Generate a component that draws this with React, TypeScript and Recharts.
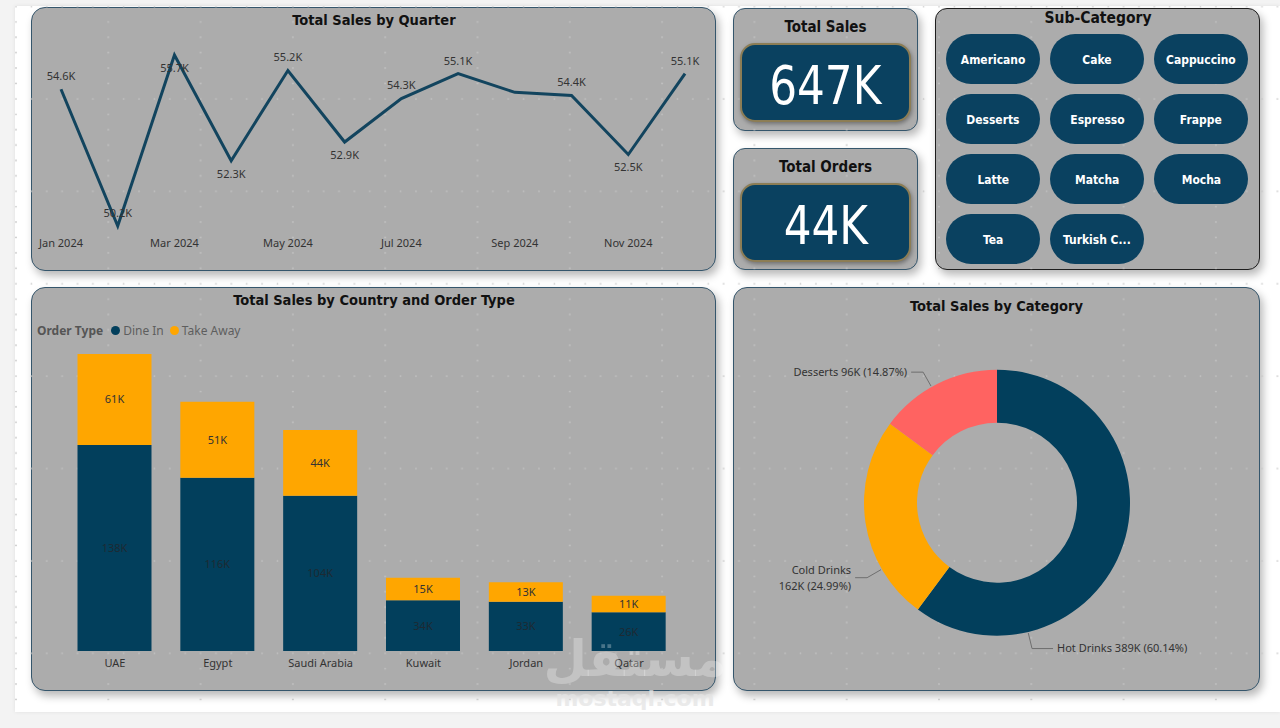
import React from 'react';
import { LineChart, Line, XAxis, YAxis, BarChart, Bar, LabelList, PieChart, Pie, Cell } from 'recharts';

// ---------- data ----------
const months = ['Jan 2024', 'Feb 2024', 'Mar 2024', 'Apr 2024', 'May 2024', 'Jun 2024', 'Jul 2024', 'Aug 2024', 'Sep 2024', 'Oct 2024', 'Nov 2024', 'Dec 2024'];
const monthlySales = [54.6, 50.2, 55.7, 52.3, 55.2, 52.9, 54.3, 55.1, 54.5, 54.4, 52.5, 55.1]; // K
const unlabeledMonths = ['Sep 2024'];

const countries = ['UAE', 'Egypt', 'Saudi Arabia', 'Kuwait', 'Jordan', 'Qatar'];
const dineInSales = [138, 116, 104, 34, 33, 26]; // K
const takeAwaySales = [61, 51, 44, 15, 13, 11]; // K
const orderTypes = ['Dine In', 'Take Away'];

const categories = ['Hot Drinks', 'Cold Drinks', 'Desserts'];
const categorySales = [389.1, 161.7, 96.2]; // K

const subCategories = ['Americano', 'Cake', 'Cappuccino', 'Desserts', 'Espresso', 'Frappe', 'Latte', 'Matcha', 'Mocha', 'Tea', 'Turkish C...'];
const totalOrdersK = 44;

// ---------- styles ----------
const TITLE_FONT = "'DejaVu Sans Condensed', 'DejaVu Sans', sans-serif";
const LABEL_FONT = "'Noto Sans', 'Open Sans', sans-serif";
const NAVY = '#023f5c';
const ORANGE = '#ffa600';
const CORAL = '#ff6361';
const PANEL = '#acacac';
const LINE_COLOR = '#12445e';
const categoryColors = [NAVY, ORANGE, CORAL];
const pieLabelAngle: Record<string, number> = { 'Hot Drinks': 166.5, 'Cold Drinks': 240, 'Desserts': 330.5 };

const lineData = months.map((m, i) => ({ month: m, sales: monthlySales[i] }));
const barData = countries.map((c, i) => ({ country: c, dineIn: dineInSales[i], takeAway: takeAwaySales[i] }));
const pieData = categories.map((c, i) => ({ name: c, value: categorySales[i] }));
const totalSalesK = Math.round(categorySales.reduce((a, b) => a + b, 0));
const minSales = Math.min(...monthlySales);
const maxSales = Math.max(...monthlySales);

function labelAbove(i: number) {
  const v = monthlySales[i];
  if (v === maxSales) return false;
  if (v === minSales) return true;
  const prev = monthlySales[i - 1];
  const next = monthlySales[i + 1];
  const localMin = (prev === undefined || v < prev) && (next === undefined || v < next);
  return !localMin;
}

const renderLineDot = (p: any) => {
  const { cx, cy, index } = p;
  if (cx == null || cy == null || unlabeledMonths.includes(months[index])) return <g key={`d${index}`} />;
  const above = labelAbove(index);
  return (
    <text key={`d${index}`} x={cx} y={above ? cy - 13 : cy + 13} dy="0.35em" textAnchor="middle" fontSize={11} fill="#333" fontFamily={LABEL_FONT}>
      {`${monthlySales[index].toFixed(1)}K`}
    </text>
  );
};

const PIE_W = 527;
const renderPieLabel = (p: any) => {
  const { cx, cy, outerRadius, index, percent, value } = p;
  const name = categories[index];
  const ang = (pieLabelAngle[name] * Math.PI) / 180;
  const sx = Math.sin(ang);
  const sy = -Math.cos(ang);
  const r0 = outerRadius + 1;
  const r1 = outerRadius + 17;
  const x0 = cx + r0 * sx, y0 = cy + r0 * sy;
  const x1 = cx + r1 * sx, y1 = cy + r1 * sy;
  const dir = sx >= 0 ? 1 : -1;
  const x2 = x1 + dir * (dir > 0 ? 21 : 12);
  const tx = x2 + dir * 4;
  const main = `${Math.round(value)}K (${(percent * 100).toFixed(2)}%)`;
  const full = `${name} ${main}`;
  const est = full.length * 5.3;
  const wrap = dir < 0 ? tx - est < 6 : tx + est > PIE_W - 6;
  const anchor = dir > 0 ? 'start' : 'end';
  const common = { textAnchor: anchor as any, fontSize: 11, fill: '#333', fontFamily: LABEL_FONT };
  return (
    <g key={`pl${index}`}>
      <polyline points={`${x0},${y0} ${x1},${y1} ${x2},${y1}`} fill="none" stroke="#6f6f6f" strokeWidth={1} />
      {wrap ? (
        <>
          <text x={tx} y={y1 - 8} dy="0.35em" {...common}>{name}</text>
          <text x={tx} y={y1 + 8} dy="0.35em" {...common}>{main}</text>
        </>
      ) : (
        <text x={tx} y={y1} dy="0.35em" {...common}>{full}</text>
      )}
    </g>
  );
};

// ---------- helpers ----------
function Panel({ x, y, w, h, border = '#35566c', radius = 14 }: any) {
  return (
    <div style={{ position: 'absolute', left: x, top: y, width: w, height: h, boxSizing: 'border-box', background: PANEL, border: `1.5px solid ${border}`, borderRadius: radius, boxShadow: '3px 5px 9px rgba(0,0,0,0.28)' }} />
  );
}

function CText({ cx, cy, size, children, weight = 700, color = '#111', family = TITLE_FONT, scaleX = 1 }: any) {
  const lh = size * 1.2;
  return (
    <div style={{ position: 'absolute', left: cx - 300, width: 600, top: cy - lh / 2, height: lh, lineHeight: `${lh}px`, textAlign: 'center', fontSize: size, fontWeight: weight, color, fontFamily: family, whiteSpace: 'nowrap' }}>
      <span style={{ display: 'inline-block', transform: `scaleX(${scaleX})` }}>{children}</span>
    </div>
  );
}

function KpiBox({ x, y, w, h, value }: any) {
  return (
    <>
      <div style={{ position: 'absolute', left: x, top: y, width: w, height: h, boxSizing: 'border-box', background: '#0a4160', border: '2px solid #8c7d55', borderRadius: 15, boxShadow: '1px 2px 4px rgba(0,0,0,0.35)' }} />
      <CText cx={x + w / 2} cy={y + h / 2 + 4} size={54} weight={400} color="#fff" scaleX={0.9}>{value}</CText>
    </>
  );
}

function GridDots() {
  const step = 15.38;
  const dots: any[] = [];
  for (let i = 0; i < 6; i++) {
    dots.push(<circle key={`h${i}`} cx={1 + i * step} cy={1} r={0.85} fill="#c4c4c4" />);
    if (i > 0) dots.push(<circle key={`v${i}`} cx={1} cy={1 + i * step} r={0.85} fill="#c4c4c4" />);
  }
  return (
    <svg width={1280} height={728} style={{ position: 'absolute', left: 0, top: 0, pointerEvents: 'none' }}>
      <defs>
        <pattern id="pbiGrid" x={15} y={5.5} width={92.3} height={92.4} patternUnits="userSpaceOnUse">
          {dots}
        </pattern>
      </defs>
      <rect x={15} y={6} width={1265} height={706} fill="url(#pbiGrid)" />
    </svg>
  );
}

export default function App() {
  const btnCols = [993, 1097, 1201];
  const btnRows = [34, 94, 154, 214];
  return (
    <div style={{ position: 'absolute', left: 0, top: 0, width: 1280, height: 728, background: '#f3f3f3', overflow: 'hidden', fontFamily: LABEL_FONT }}>
      <div style={{ position: 'absolute', left: 15, top: 6, width: 1265, height: 706, background: '#ffffff', boxShadow: '0 0 4px rgba(0,0,0,0.08)' }} />

      {/* panels */}
      <Panel x={31} y={7} w={685} h={264} />
      <Panel x={733} y={8} w={185} h={123} radius={12} />
      <Panel x={733} y={148} w={185} h={122} radius={12} />
      <Panel x={935} y={8} w={325} h={262} border="#1e1e1e" radius={12} />
      <Panel x={31} y={287} w={685} h={404} />
      <Panel x={733} y={287} w={527} h={404} />

      <GridDots />

      {/* line chart */}
      <CText cx={374} cy={21} size={14.5}>Total Sales by Quarter</CText>
      <div style={{ position: 'absolute', left: 31, top: 7 }}>
        <LineChart width={685} height={264} data={lineData} margin={{ top: 48, right: 31, left: 30, bottom: 15 }}>
          <XAxis dataKey="month" interval={1} axisLine={false} tickLine={false} tickMargin={7} tick={{ fontSize: 11, fill: '#333', fontFamily: LABEL_FONT }} />
          <YAxis hide domain={[minSales, maxSales]} />
          <Line type="linear" dataKey="sales" stroke={LINE_COLOR} strokeWidth={3} dot={renderLineDot} activeDot={false} isAnimationActive={false} />
        </LineChart>
      </div>

      {/* KPI cards */}
      <CText cx={825.5} cy={27} size={15}>Total Sales</CText>
      <KpiBox x={740} y={43} w={171} h={79} value={`${totalSalesK}K`} />
      <CText cx={825.5} cy={167} size={15}>Total Orders</CText>
      <KpiBox x={740} y={183} w={171} h={79} value={`${totalOrdersK}K`} />

      {/* sub-category slicer */}
      <CText cx={1098} cy={18} size={15.5}>Sub-Category</CText>
      {subCategories.map((s, i) => {
        const cx = btnCols[i % 3];
        const top = btnRows[Math.floor(i / 3)];
        return (
          <div key={s} style={{ position: 'absolute', left: cx - 47, top, width: 94, height: 50, borderRadius: 25, background: '#0a4160', color: '#fff', fontFamily: TITLE_FONT, fontWeight: 700, fontSize: 13, display: 'flex', alignItems: 'center', justifyContent: 'center', whiteSpace: 'nowrap' }}>
            <span style={{ display: 'inline-block', transform: 'scaleX(0.92)' }}>{s}</span>
          </div>
        );
      })}

      {/* bar chart */}
      <CText cx={374} cy={301} size={14.5}>Total Sales by Country and Order Type</CText>
      <div style={{ position: 'absolute', left: 37, top: 322, height: 17, display: 'flex', alignItems: 'center', fontSize: 12, fontFamily: LABEL_FONT, color: '#5e5e5e', whiteSpace: 'nowrap' }}>
        <span style={{ fontWeight: 700, color: '#555', marginRight: 8 }}>Order Type</span>
        {orderTypes.map((t, i) => (
          <span key={t} style={{ display: 'flex', alignItems: 'center', marginRight: 6 }}>
            <span style={{ width: 9, height: 9, borderRadius: 5, background: i === 0 ? NAVY : ORANGE, marginRight: 3 }} />
            {t}
          </span>
        ))}
      </div>
      <div style={{ position: 'absolute', left: 31, top: 287 }}>
        <BarChart width={685} height={404} data={barData} margin={{ top: 65.5, right: 35.5, left: 32.5, bottom: 10 }} barSize={74}>
          <XAxis dataKey="country" interval={0} axisLine={false} tickLine={false} tickMargin={2} tick={{ fontSize: 11, fill: '#333', fontFamily: LABEL_FONT }} />
          <YAxis hide domain={[0, 200]} />
          <Bar dataKey="dineIn" stackId="a" fill={NAVY} isAnimationActive={false}>
            <LabelList dataKey="dineIn" position="center" formatter={(v: any) => `${v}K`} fill="#1d2a33" fontSize={11} fontFamily={LABEL_FONT} />
          </Bar>
          <Bar dataKey="takeAway" stackId="a" fill={ORANGE} isAnimationActive={false}>
            <LabelList dataKey="takeAway" position="center" formatter={(v: any) => `${v}K`} fill="#333" fontSize={11} fontFamily={LABEL_FONT} />
          </Bar>
        </BarChart>
      </div>

      {/* donut */}
      <CText cx={996.5} cy={307} size={14.5}>Total Sales by Category</CText>
      <div style={{ position: 'absolute', left: 733, top: 287 }}>
        <PieChart width={PIE_W} height={404} margin={{ top: 0, right: 0, bottom: 0, left: 0 }}>
          <Pie data={pieData} dataKey="value" nameKey="name" cx={264} cy={215.7} innerRadius={80} outerRadius={133} startAngle={90} endAngle={-270} stroke="none" label={renderPieLabel} labelLine={false} isAnimationActive={false}>
            {pieData.map((d, i) => (
              <Cell key={d.name} fill={categoryColors[i]} />
            ))}
          </Pie>
        </PieChart>
      </div>

      {/* watermark */}
      <div style={{ position: 'absolute', left: 535, top: 630, width: 200, textAlign: 'center', fontFamily: "'DejaVu Sans', sans-serif", fontWeight: 700, fontSize: 50, lineHeight: '58px', color: 'rgba(255,255,255,0.28)', pointerEvents: 'none' }}>مستقل</div>
      <div style={{ position: 'absolute', left: 545, top: 686, width: 180, textAlign: 'center', fontFamily: "'DejaVu Sans', sans-serif", fontWeight: 700, fontSize: 22, lineHeight: '26px', color: 'rgba(228,228,228,0.75)', pointerEvents: 'none' }}>mostaql.com</div>
    </div>
  );
}
